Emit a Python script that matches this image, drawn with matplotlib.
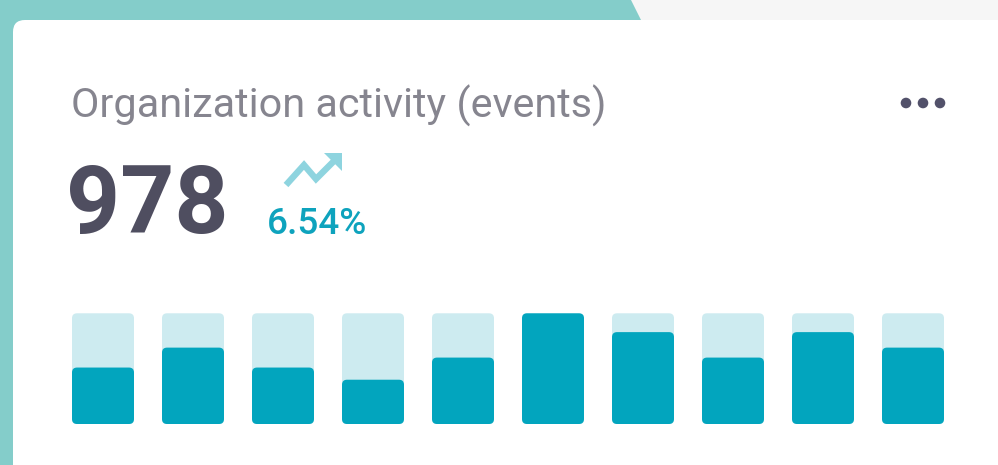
import matplotlib
matplotlib.use("Agg")
import matplotlib.pyplot as plt
from matplotlib.patches import FancyBboxPatch, Polygon, Circle
import numpy as np

# ---- data ----
title = "Organization activity (events)"
total_value = "978"
change_label = "6.54%"
bar_categories = list(range(1, 11))
bar_values = [51, 69, 51, 40, 60, 100, 83, 60, 83, 69]
bar_max = 100

W, H = 998, 465
fig = plt.figure(figsize=(W / 100, H / 100), dpi=100)
fig.patch.set_facecolor("#f6f6f6")

# background axes in pixel coordinates
bg = fig.add_axes([0, 0, 1, 1])
bg.set_xlim(0, W)
bg.set_ylim(H, 0)
bg.axis("off")

# teal shape
bg.add_patch(Polygon([[0, 0], [631, 0], [641, 20], [641, H], [0, H]],
                     closed=True, facecolor="#84cdca", edgecolor="none", zorder=1))
# white card
bg.add_patch(FancyBboxPatch((13, 20), W + 50, H + 50,
                            boxstyle="round,pad=0,rounding_size=12",
                            facecolor="white", edgecolor="none", zorder=2))

# texts
bg.text(71, 117.5, title, fontsize=29.8, family="Roboto", color="#86858f",
        va="baseline", ha="left", zorder=3)
bg.text(66, 233, total_value, fontsize=68, family="Roboto", fontweight="bold",
        color="#4f4e60", va="baseline", ha="left", zorder=3)
bg.text(267, 234, change_label, fontsize=26.6, family="Roboto", fontweight="medium",
        color="#0ea3bd", va="baseline", ha="left", zorder=3)

# trend arrow icon
arrow_col = "#8ed4df"
bg.plot([286, 304, 316, 334], [185, 165, 179, 161], color=arrow_col, lw=4.6,
        solid_joinstyle="miter", solid_capstyle="butt", zorder=3)
bg.add_patch(Polygon([[342, 153], [342, 171], [324, 153]], closed=True,
                     facecolor=arrow_col, edgecolor="none", zorder=3))

# more dots
for cx in (906, 923, 940):
    bg.add_patch(Circle((cx, 103), 5.3, facecolor="#52516a", edgecolor="none", zorder=3))

# ---- bar axes ----
x0_px, x1_px = 58, 958
y_bot, y_top = 424, 313.3
ax = fig.add_axes([x0_px / W, (H - y_bot) / H, (x1_px - x0_px) / W, (y_bot - y_top) / H])
ax.set_xlim(-0.5, len(bar_categories) - 0.5)
ax.set_ylim(0, bar_max)
ax.axis("off")
ax.patch.set_alpha(0)

xs = np.arange(len(bar_categories))
width = 62 / 90
px_per_x = (x1_px - x0_px) / len(bar_categories)
px_per_y = (y_bot - y_top) / bar_max
r_px = 5
aspect = px_per_x / px_per_y


def rounded(rects, color, z):
    for rect in rects:
        x, y = rect.get_x(), rect.get_y()
        w, h = rect.get_width(), rect.get_height()
        rect.remove()
        ax.add_patch(FancyBboxPatch((x, y), w, h,
                                    boxstyle=f"round,pad=0,rounding_size={r_px / px_per_x}",
                                    mutation_aspect=aspect,
                                    facecolor=color, edgecolor="none", zorder=z))


bgbars = ax.bar(xs, [bar_max] * len(xs), width=width)
rounded(bgbars, "#cdebf0", 1)
fgbars = ax.bar(xs, bar_values, width=width)
rounded(fgbars, "#02a5be", 2)

fig.savefig("out.png", dpi=100, facecolor=fig.get_facecolor())
